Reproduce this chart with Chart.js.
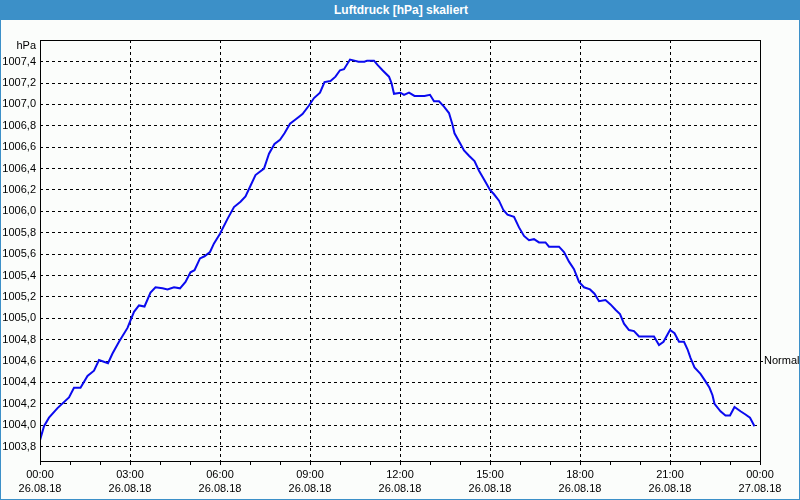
<!DOCTYPE html>
<html>
<head>
<meta charset="utf-8">
<script src="https://cdn.jsdelivr.net/npm/chart.js@4/dist/chart.umd.min.js"></script>
<style>
  html, body { margin: 0; padding: 0; background: #fbfdfb; }
  #wrap { position: relative; width: 800px; height: 500px; box-sizing: border-box; border: 1px solid #3c90c8; border-top: none; overflow: hidden; }
  #title { position: absolute; left: 0; top: 0; width: 800px; height: 20px; background: #3c90c8; color: #fff;
           font: bold 12px 'Liberation Sans', Arial, sans-serif; line-height: 20px; text-align: center; z-index: 2; }
  canvas { position: absolute; left: -1px; top: 0; }
</style>
</head>
<body>
<div id="wrap">
  <div id="title">Luftdruck [hPa] skaliert</div>
  <canvas id="c" width="800" height="500"></canvas>
</div>
<script>
// Time in minutes since 26.08.18 00:00
const minutes = [
  0, 8, 18, 35, 58, 68, 81, 95, 108, 118, 136, 145, 158, 175, 188, 198, 209, 221, 231, 245,
  255, 268, 280, 291, 301, 309, 320, 329, 340, 348, 360, 375, 388, 401, 411, 421, 431, 448, 458, 469,
  480, 489, 500, 511, 525, 538, 548, 560, 569, 581, 591, 600, 608, 620, 629, 637, 649, 654, 668, 675,
  685, 698, 703, 708, 721, 728, 738, 749, 769, 780, 788, 798, 808, 818, 825, 829, 841, 848, 858, 869,
  878, 889, 900, 908, 918, 927, 935, 948, 958, 968, 978, 988, 998, 1011, 1018, 1038, 1048, 1058, 1068, 1078,
  1088, 1100, 1109, 1118, 1131, 1141, 1151, 1160, 1168, 1178, 1188, 1198, 1228, 1238, 1247, 1260, 1269, 1278, 1288, 1295,
  1301, 1309, 1321, 1331, 1339, 1345, 1349, 1361, 1371, 1380, 1389, 1401, 1411, 1420, 1429
];
// Luftdruck [hPa]
const pressure = [
  1003.86, 1003.99, 1004.07, 1004.16, 1004.26, 1004.35, 1004.35, 1004.46, 1004.51, 1004.61, 1004.58, 1004.67, 1004.78, 1004.91, 1005.06, 1005.12, 1005.11, 1005.24, 1005.29, 1005.28,
  1005.27, 1005.29, 1005.28, 1005.34, 1005.43, 1005.45, 1005.56, 1005.58, 1005.62, 1005.70, 1005.79, 1005.93, 1006.04, 1006.09, 1006.14, 1006.24, 1006.34, 1006.40, 1006.54, 1006.63,
  1006.67, 1006.73, 1006.82, 1006.86, 1006.91, 1006.99, 1007.06, 1007.11, 1007.21, 1007.22, 1007.26, 1007.32, 1007.33, 1007.42, 1007.41, 1007.40, 1007.40, 1007.41, 1007.41, 1007.37,
  1007.32, 1007.26, 1007.20, 1007.10, 1007.11, 1007.09, 1007.11, 1007.08, 1007.08, 1007.09, 1007.03, 1007.03, 1006.98, 1006.92, 1006.81, 1006.73, 1006.63, 1006.57, 1006.52, 1006.47,
  1006.38, 1006.29, 1006.20, 1006.16, 1006.10, 1006.01, 1005.97, 1005.95, 1005.85, 1005.77, 1005.73, 1005.74, 1005.71, 1005.71, 1005.67, 1005.67, 1005.62, 1005.53, 1005.46, 1005.34,
  1005.29, 1005.27, 1005.23, 1005.16, 1005.17, 1005.13, 1005.08, 1005.04, 1004.95, 1004.89, 1004.88, 1004.83, 1004.83, 1004.75, 1004.78, 1004.89, 1004.86, 1004.78, 1004.78, 1004.71,
  1004.63, 1004.54, 1004.48, 1004.41, 1004.35, 1004.28, 1004.20, 1004.13, 1004.09, 1004.09, 1004.17, 1004.13, 1004.10, 1004.07, 1003.99
];
// Tick labels
const yTicks = [1003.8, 1004.0, 1004.2, 1004.4, 1004.6, 1004.8, 1005.0, 1005.2, 1005.4, 1005.6, 1005.8, 1006.0, 1006.2, 1006.4, 1006.6, 1006.8, 1007.0, 1007.2, 1007.4];
const xTickMinutes = [0, 180, 360, 540, 720, 900, 1080, 1260, 1440];
const xTickTimes = ['00:00', '03:00', '06:00', '09:00', '12:00', '15:00', '18:00', '21:00', '00:00'];
const xTickDates = ['26.08.18', '26.08.18', '26.08.18', '26.08.18', '26.08.18', '26.08.18', '26.08.18', '26.08.18', '27.08.18'];
const normalValue = 1004.6;
const normalLabel = 'Normal';
const unitLabel = 'hPa';
const yMin = 1003.665, yMax = 1007.603;

Chart.defaults.font.family = "'Liberation Sans', Arial, sans-serif";
Chart.defaults.font.size = 11;
Chart.defaults.color = '#000';

const framePlugin = {
  id: 'frame',
  afterDraw(chart) {
    const { ctx, chartArea: a, scales } = chart;
    ctx.save();
    ctx.strokeStyle = '#000';
    ctx.lineWidth = 1;
    ctx.setLineDash([]);
    ctx.strokeRect(a.left + 0.5, a.top + 0.5, a.right - a.left, a.bottom - a.top);
    ctx.fillStyle = '#000';
    ctx.font = "11px 'Liberation Sans', Arial, sans-serif";
    ctx.textAlign = 'right';
    ctx.textBaseline = 'middle';
    ctx.fillText(unitLabel, a.left - 4, scales.y.getPixelForValue(1007.55));
    ctx.restore();
  }
};

new Chart(document.getElementById('c'), {
  type: 'line',
  data: {
    datasets: [{
      data: minutes.map((m, i) => ({ x: m, y: pressure[i] })),
      borderColor: '#0a0aef',
      borderWidth: 2,
      pointRadius: 0,
      tension: 0,
      fill: false
    }]
  },
  options: {
    responsive: false,
    animation: false,
    layout: { padding: { top: 40, left: 0, right: 0, bottom: 0 } },
    plugins: { legend: { display: false }, tooltip: { enabled: false }, title: { display: false } },
    scales: {
      x: {
        type: 'linear',
        min: 0, max: 1440,
        afterFit(s) { s.height = 39; },
        afterBuildTicks(s) {
          const t = [];
          for (let m = 0; m <= 1440; m += 60) t.push({ value: m });
          s.ticks = t;
        },
        ticks: {
          autoSkip: false, maxRotation: 0, padding: 3,
          font: { size: 11, lineHeight: 1.3 },
          callback(v) {
            const i = xTickMinutes.indexOf(v);
            return i >= 0 ? [xTickTimes[i], xTickDates[i]] : '';
          }
        },
        grid: {
          color(ctx) {
            const v = ctx.tick ? ctx.tick.value : -1;
            return (v % 180 === 0 && v > 0 && v < 1440) ? '#000' : 'rgba(0,0,0,0)';
          },
          tickColor: '#000',
          tickLength: 4,
          lineWidth: 1
        },
        border: { display: false, dash: [3, 3] }
      },
      y: {
        type: 'linear',
        position: 'left',
        min: yMin, max: yMax,
        afterFit(s) { s.width = 40; },
        afterBuildTicks(s) { s.ticks = yTicks.map(v => ({ value: v })); },
        ticks: {
          padding: 4,
          callback(v) { return v.toFixed(1).replace('.', ','); }
        },
        grid: { color: '#000', drawTicks: false, lineWidth: 1 },
        border: { display: false, dash: [3, 3] }
      },
      y2: {
        type: 'linear',
        position: 'right',
        min: yMin, max: yMax,
        afterFit(s) { s.width = 40; },
        afterBuildTicks(s) { s.ticks = [{ value: normalValue }]; },
        ticks: { padding: 1, callback() { return normalLabel; } },
        grid: { drawOnChartArea: false, tickColor: '#000', tickLength: 3, color: '#000' },
        border: { display: false }
      }
    }
  },
  plugins: [framePlugin]
});
</script>
</body>
</html>
